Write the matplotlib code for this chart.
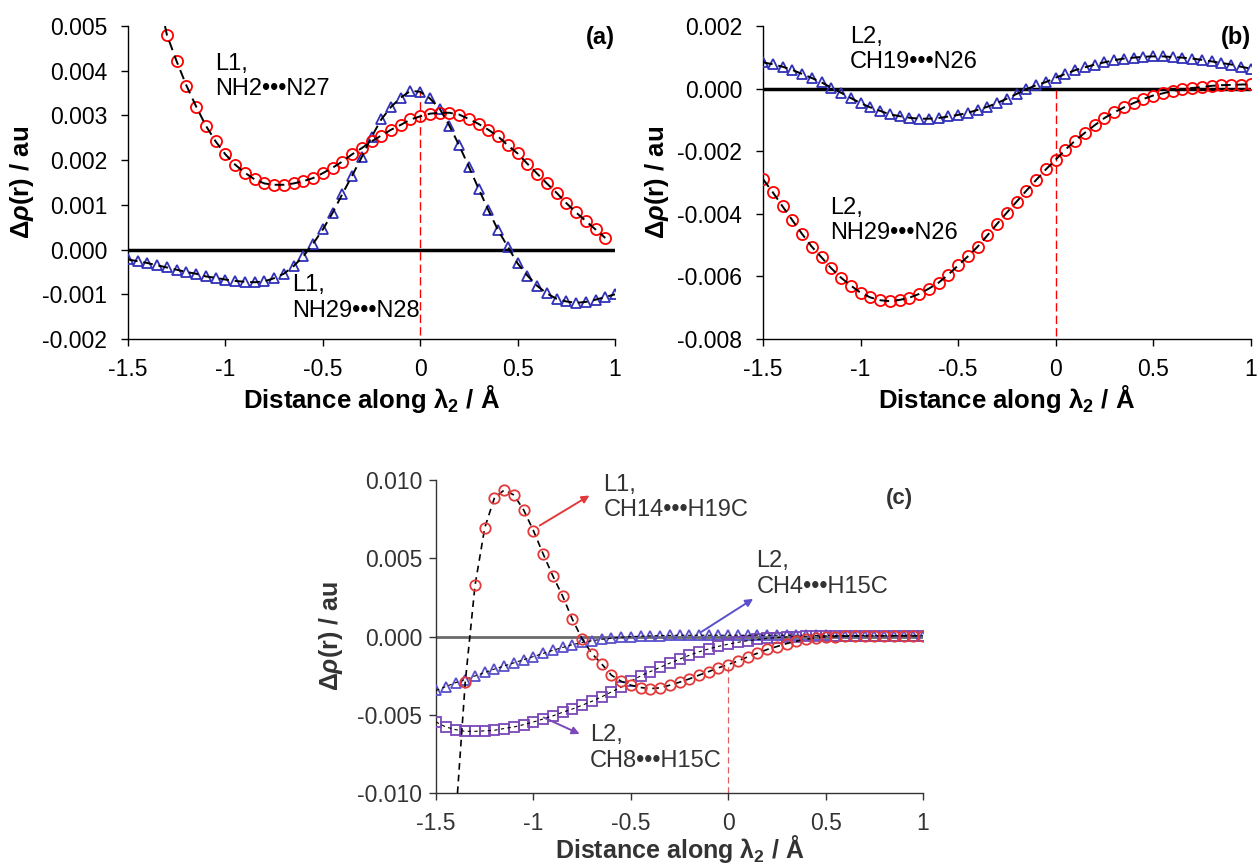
"""Electron density difference profiles along lambda_2, three panels."""

import numpy as np
import matplotlib
matplotlib.use("Agg")
import matplotlib.pyplot as plt
from matplotlib.ticker import FormatStrFormatter, MultipleLocator

# ---- panel (a) ----
a_l1_nh2_x = np.round(np.arange(-1.30, 0.951, 0.05), 2)
a_l1_nh2_y = np.array([
    4.80, 4.21, 3.67, 3.20, 2.77, 2.42, 2.13, 1.90, 1.72, 1.57,
    1.48, 1.45, 1.45, 1.48, 1.53, 1.60, 1.71, 1.83, 1.97, 2.13,
    2.27, 2.42, 2.55, 2.68, 2.79, 2.91, 2.98, 3.04, 3.06, 3.06,
    3.02, 2.92, 2.81, 2.68, 2.53, 2.33, 2.15, 1.92, 1.70, 1.48,
    1.27, 1.04, 0.83, 0.64, 0.45, 0.26]) * 1e-3
a_l1_nh2_lead = (-1.31, 5.0e-3)   # trendline start above first point

a_l1_nh29_x = np.round(np.arange(-1.50, 1.001, 0.05), 2)
a_l1_nh29_y = np.array([
    -0.22, -0.26, -0.30, -0.35, -0.40, -0.45, -0.50, -0.54, -0.60, -0.63,
    -0.67, -0.70, -0.72, -0.73, -0.71, -0.64, -0.54, -0.37, -0.15, 0.13,
    0.45, 0.82, 1.24, 1.65, 2.07, 2.52, 2.91, 3.19, 3.40, 3.55,
    3.53, 3.38, 3.15, 2.77, 2.33, 1.85, 1.36, 0.88, 0.43, 0.06,
    -0.31, -0.58, -0.81, -0.98, -1.10, -1.16, -1.19, -1.17, -1.12, -1.06,
    -1.00]) * 1e-3

# ---- panel (b) ----
b_x = np.round(np.arange(-1.50, 1.001, 0.05), 2)
b_l2_ch19_y = np.array([
    0.84, 0.78, 0.70, 0.60, 0.47, 0.34, 0.20, 0.03, -0.13, -0.30,
    -0.46, -0.60, -0.71, -0.82, -0.88, -0.93, -0.96, -0.96, -0.94, -0.89,
    -0.84, -0.77, -0.68, -0.58, -0.46, -0.32, -0.17, -0.02, 0.11, 0.21,
    0.35, 0.47, 0.59, 0.68, 0.77, 0.84, 0.91, 0.96, 0.99, 1.02,
    1.03, 1.03, 1.01, 0.99, 0.96, 0.92, 0.87, 0.82, 0.77, 0.70,
    0.64]) * 1e-3
b_l2_nh29_y = np.array([
    -2.89, -3.31, -3.76, -4.20, -4.64, -5.05, -5.39, -5.74, -6.04, -6.29,
    -6.52, -6.67, -6.76, -6.79, -6.75, -6.68, -6.56, -6.39, -6.20, -5.94,
    -5.65, -5.36, -5.05, -4.69, -4.32, -3.96, -3.61, -3.26, -2.92, -2.58,
    -2.27, -1.95, -1.66, -1.41, -1.17, -0.94, -0.76, -0.60, -0.46, -0.33,
    -0.22, -0.15, -0.07, -0.02, 0.02, 0.05, 0.09, 0.11, 0.12, 0.13,
    0.14]) * 1e-3

# ---- panel (c) ----
c_l1_ch14_x = np.round(np.arange(-1.35, 1.001, 0.05), 2)
c_l1_ch14_y = np.array([
    -2.90, 3.26, 6.95, 8.87, 9.36, 9.04, 8.08, 6.76, 5.27, 3.86,
    2.58, 1.09, -0.15, -1.09, -1.75, -2.47, -2.86, -3.11, -3.26, -3.33,
    -3.28, -3.11, -2.92, -2.71, -2.47, -2.24, -2.00, -1.79, -1.56, -1.30,
    -1.07, -0.83, -0.64, -0.45, -0.30, -0.17, -0.09, -0.02, 0.00, 0.02,
    0.03, 0.04, 0.04, 0.05, 0.05, 0.05, 0.05, 0.05]) * 1e-3
c_l1_ch14_lead = (-1.39, -10.0e-3)   # trendline runs down to the axis

c_x = np.round(np.arange(-1.50, 1.001, 0.05), 2)
c_l2_ch4_y = np.array([
    -3.45, -3.20, -2.95, -2.75, -2.52, -2.30, -2.08, -1.88, -1.68, -1.48,
    -1.28, -1.08, -0.88, -0.70, -0.52, -0.38, -0.27, -0.18, -0.11, -0.05,
    -0.01, 0.02, 0.04, 0.06, 0.07, 0.08, 0.08, 0.08, 0.08, 0.08,
    0.08, 0.08, 0.08, 0.08, 0.08, 0.08, 0.08, 0.08, 0.07, 0.07,
    0.07, 0.06, 0.06, 0.06, 0.05, 0.05, 0.05, 0.05, 0.05, 0.05,
    0.05]) * 1e-3
c_l2_ch8_y = np.array([
    -5.46, -5.78, -5.95, -6.06, -6.06, -6.03, -5.99, -5.88, -5.78, -5.63,
    -5.46, -5.27, -5.07, -4.84, -4.63, -4.39, -4.14, -3.86, -3.54, -3.24,
    -2.85, -2.52, -2.24, -1.97, -1.70, -1.45, -1.20, -0.98, -0.79, -0.63,
    -0.49, -0.37, -0.27, -0.19, -0.12, -0.07, -0.03, 0.00, 0.02, 0.03,
    0.04, 0.04, 0.04, 0.04, 0.04, 0.04, 0.04, 0.04, 0.04, 0.04,
    0.04]) * 1e-3

x_ticks = [-1.5, -1.0, -0.5, 0.0, 0.5, 1.0]
x_tick_labels = ["-1.5", "-1", "-0.5", "0", "0.5", "1"]

RED = "#ff0000"
BLUE = "#3030b8"
C_RED = "#e23a3a"
C_BLUE = "#5a50cc"
C_PURPLE = "#7a48b8"
C_TEXT = "#333333"

TICK_FS = 16.5
LABEL_FS = 18.5
NOTE_FS = 17

plt.rcParams.update({
    "font.family": ["Liberation Sans", "DejaVu Sans"],
    "font.size": TICK_FS,
    "axes.unicode_minus": False,
    "mathtext.fontset": "custom",
    "mathtext.it": "Liberation Sans:bold:italic",
    "mathtext.rm": "Liberation Sans:bold",
    "mathtext.bf": "Liberation Sans:bold",
})

YLABEL = r"Δ$\rho$(r) / au"
XLABEL = r"Distance along λ$_2$ / Å"


def style_axes(ax, ylim, ystep, color="black", ypad=10, xlab_y=-0.14,
               label_fs=LABEL_FS):
    """Excel-like axes: left/bottom spines, outward ticks, fixed ranges."""
    for side in ("top", "right"):
        ax.spines[side].set_visible(False)
    for side in ("left", "bottom"):
        ax.spines[side].set_color(color)
        ax.spines[side].set_linewidth(1.0)
    ax.set_xlim(-1.5, 1.0)
    ax.set_ylim(*ylim)
    ax.set_xticks(x_ticks)
    ax.set_xticklabels(x_tick_labels)
    ax.yaxis.set_major_locator(MultipleLocator(ystep))
    ax.yaxis.set_major_formatter(FormatStrFormatter("%.3f"))
    ax.tick_params(direction="out", length=5, width=1.0, color=color,
                   labelcolor=color, labelsize=TICK_FS)
    ax.tick_params(axis="x", pad=9)
    ax.tick_params(axis="y", pad=ypad)
    ax.set_xlabel(XLABEL, fontsize=label_fs, fontweight="bold", color=color)
    ax.set_ylabel(YLABEL, fontsize=label_fs, fontweight="bold", color=color)
    ax.xaxis.set_label_coords(0.5, xlab_y)
    ax.yaxis.set_label_coords(-0.188, 0.5)


def series(ax, x, y, marker, color, ms=8, lw=1.4, dash=(5, 3)):
    ax.plot(x, y, linestyle="none", marker=marker, markersize=ms,
            markerfacecolor="none", markeredgecolor=color,
            markeredgewidth=1.3, zorder=3)
    ax.plot(x, y, color="black", linestyle=(0, dash), linewidth=lw,
            zorder=4)


fig = plt.figure(figsize=(12.57, 8.68), dpi=100)

# ---- (a) ----
ax_a = fig.add_axes([0.1018, 0.6094, 0.3875, 0.3606])
style_axes(ax_a, (-0.002, 0.005), 0.001)
ax_a.axhline(0, color="black", linewidth=2.5, zorder=2)
ax_a.plot([0, 0], [-0.0019, a_l1_nh29_y[a_l1_nh29_x == 0][0]],
          color=RED, linestyle=(0, (6, 3)), linewidth=1.0, zorder=2)
series(ax_a, a_l1_nh29_x, a_l1_nh29_y, "^", BLUE, ms=7.5)
ax_a.plot(a_l1_nh2_x, a_l1_nh2_y, linestyle="none", marker="o",
          markersize=8, markerfacecolor="none", markeredgecolor=RED,
          markeredgewidth=1.3, zorder=3)
ax_a.plot(np.r_[a_l1_nh2_lead[0], a_l1_nh2_x],
          np.r_[a_l1_nh2_lead[1], a_l1_nh2_y],
          color="black", linestyle=(0, (5, 3)), linewidth=1.4, zorder=4)
ax_a.text(-1.055, 0.0044, "L1,\nNH2•••N27", ha="left", va="top",
          fontsize=NOTE_FS, linespacing=1.2)
ax_a.text(-0.655, -0.00055, "L1,\nNH29•••N28", ha="left", va="top",
          fontsize=NOTE_FS, linespacing=1.2)
ax_a.text(1.0, 1.0, "(a)", transform=ax_a.transAxes, ha="right",
          va="top", fontsize=NOTE_FS, fontweight="bold")

# ---- (b) ----
ax_b = fig.add_axes([0.607, 0.6094, 0.388, 0.3606])
style_axes(ax_b, (-0.008, 0.002), 0.002)
ax_b.axhline(0, color="black", linewidth=2.5, zorder=2)
ax_b.plot([0, 0], [-0.0079, 0.0001], color=RED,
          linestyle=(0, (6, 3)), linewidth=1.0, zorder=2)
series(ax_b, b_x, b_l2_ch19_y, "^", BLUE, ms=7.5)
series(ax_b, b_x, b_l2_nh29_y, "o", RED)
ax_b.text(-1.053, 0.0020, "L2,\nCH19•••N26", ha="left", va="top",
          fontsize=NOTE_FS, linespacing=1.2)
ax_b.text(-1.156, -0.00345, "L2,\nNH29•••N26", ha="left", va="top",
          fontsize=NOTE_FS, linespacing=1.2)
ax_b.text(1.0, 1.0, "(b)", transform=ax_b.transAxes, ha="right",
          va="top", fontsize=NOTE_FS, fontweight="bold")

# ---- (c) ----
ax_c = fig.add_axes([0.3469, 0.0864, 0.3874, 0.3606])
style_axes(ax_c, (-0.010, 0.010), 0.005, color=C_TEXT, ypad=5,
           xlab_y=-0.128, label_fs=18)
ax_c.axhline(0, color="#6a6a6a", linewidth=2.0, zorder=2)
ax_c.plot([0, 0], [-0.010, c_l1_ch14_y[c_l1_ch14_x == 0][0]],
          color="#e06060", linestyle=(0, (5, 3)), linewidth=0.9, zorder=2)
series(ax_c, c_x, c_l2_ch4_y, "^", C_BLUE, ms=7, lw=0.8, dash=(3, 3))
series(ax_c, c_x, c_l2_ch8_y, "s", C_PURPLE, ms=6.5, lw=0.8, dash=(3, 3))
ax_c.plot(c_l1_ch14_x, c_l1_ch14_y, linestyle="none", marker="o",
          markersize=7.5, markerfacecolor="none", markeredgecolor=C_RED,
          markeredgewidth=1.3, zorder=5)
ax_c.plot(np.r_[c_l1_ch14_lead[0], c_l1_ch14_x],
          np.r_[c_l1_ch14_lead[1], c_l1_ch14_y],
          color="black", linestyle=(0, (4, 3)), linewidth=1.2, zorder=4)

arrow = dict(arrowstyle="-|>", lw=1.4, mutation_scale=11)
ax_c.annotate("", xy=(-0.70, 0.0091), xytext=(-0.98, 0.0070),
              arrowprops=dict(arrow, color=C_RED), zorder=6)
ax_c.text(-0.64, 0.0104, "L1,\nCH14•••H19C", ha="left", va="top",
          fontsize=NOTE_FS, color=C_TEXT, linespacing=1.2)
ax_c.annotate("", xy=(0.14, 0.0025), xytext=(-0.15, 0.0002),
              arrowprops=dict(arrow, color=C_BLUE), zorder=6)
ax_c.text(0.145, 0.0055, "L2,\nCH4•••H15C", ha="left", va="top",
          fontsize=NOTE_FS, color=C_TEXT, linespacing=1.2)
ax_c.annotate("", xy=(-0.75, -0.0063), xytext=(-0.96, -0.0051),
              arrowprops=dict(arrow, color=C_PURPLE), zorder=6)
ax_c.text(-0.71, -0.0056, "L2,\nCH8•••H15C", ha="left", va="top",
          fontsize=NOTE_FS, color=C_TEXT, linespacing=1.2)
ax_c.text(0.98, 0.975, "(c)", transform=ax_c.transAxes, ha="right",
          va="top", fontsize=NOTE_FS - 1, fontweight="bold", color=C_TEXT)

fig.savefig("out.png", dpi=100, facecolor="white")
